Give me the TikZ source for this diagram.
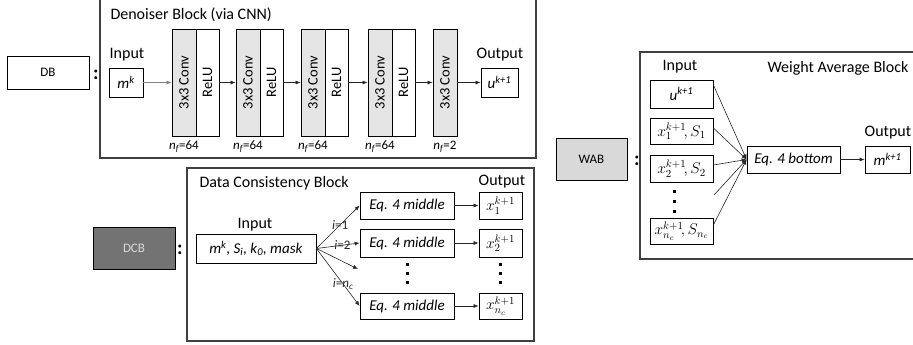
\documentclass[tikz,border=0pt]{standalone}
\usepackage{fix-cm}
\usepackage{fontspec}
\setmainfont{Carlito}
\usetikzlibrary{arrows.meta,positioning}

\begin{document}
\begin{tikzpicture}[x=1pt,y=-1pt,>={Latex[length=5pt,width=4pt]},
    box/.style={draw,line width=0.8pt,inner sep=1pt,font=\fontsize{15}{17}\selectfont},
    mathbox/.style={box,font=\fontsize{15.5}{17}\selectfont},
    layer/.style={draw,line width=0.8pt,rotate=90,minimum width=107pt,minimum height=24pt,inner sep=0pt,font=\fontsize{14.5}{16}\selectfont},
    blockframe/.style={draw=black!75,line width=1.2pt},
    lbl/.style={font=\fontsize{16}{18}\selectfont},
    note/.style={font=\fontsize{13}{15}\selectfont},
    link/.style={->,line width=0.6pt,black!85},
    colon/.style={font=\fontsize{20}{22}\selectfont\bfseries}]
  \useasboundingbox (0,0) rectangle (913,345);
  \clip (0,0) rectangle (913,345);

  % Denoiser block
  \draw[blockframe] (100,-5) rectangle (536,158);
  \node[lbl,anchor=west] (dbtitle) at (107,15) {Denoiser Block (via CNN)};
  \node[box,minimum width=82pt,minimum height=33pt,font=\fontsize{13}{15}\selectfont] (db) at (48,72.5) {DB};
  \node[colon] (dbcolon) at (96,75) {:};
  \node[lbl] (dbin) at (127,55) {Input};
  \node[box,minimum width=34pt,minimum height=29pt] (mk) at (126,82.5) {\textit{m\textsuperscript{k}}};
  \foreach \i/\x in {1/184,2/248,3/313,4/380}{
    \node[layer,fill=gray!20] (conv\i) at (\x,82.5) {3x3 Conv};
    \node[layer,minimum height=23pt] (relu\i) at (\x+23.5,82.5) {ReLU};
    \node[note] (nf\i) at (\x,147) {\textit{n\textsubscript{f}}=64};
  }
  \node[layer,fill=gray!20] (conv5) at (445,82.5) {3x3 Conv};
  \node[note] (nf5) at (445,147) {\textit{n\textsubscript{f}}=2};
  \node[lbl] (dbout) at (500,55) {Output};
  \node[box,minimum width=37pt,minimum height=29pt] (ukp) at (499.5,82.5) {\textit{u\textsuperscript{k+1}}};
  \draw[link,gray] (mk) -- (conv1);
  \foreach \i/\j in {1/2,2/3,3/4,4/5}
    \draw[link] (relu\i) -- (conv\j);
  \draw[link] (conv5) -- (ukp);

  % Data consistency block
  \draw[blockframe] (187,168) rectangle (534,341);
  \node[lbl,anchor=west] (dctitle) at (196,183) {Data Consistency Block};
  \node[lbl] (dcout) at (502,182) {Output};
  \node[box,fill=black!55,text=white!85!black,minimum width=82pt,minimum height=42pt,font=\fontsize{13}{15}\selectfont] (dcb) at (134,248) {DCB};
  \node[colon] (dccolon) at (180,250) {:};
  \node[lbl] (dcin) at (255,225) {Input};
  \node[box,minimum width=120pt,minimum height=29pt] (dcdata) at (256,248.5) {\textit{m\textsuperscript{k}, S\textsubscript{i}, k\textsubscript{0}, mask}};
  \node[box,minimum width=94pt,minimum height=27pt] (eq1) at (407,205.5) {\textit{Eq. 4 middle}};
  \node[box,minimum width=94pt,minimum height=28pt] (eq2) at (407,243) {\textit{Eq. 4 middle}};
  \node[box,minimum width=94pt,minimum height=26pt] (eq3) at (407,306) {\textit{Eq. 4 middle}};
  \node[mathbox,minimum width=43pt,minimum height=27pt] (xo1) at (500.5,205.5) {$x_1^{k+1}$};
  \node[mathbox,minimum width=43pt,minimum height=28pt] (xo2) at (500.5,243) {$x_2^{k+1}$};
  \node[mathbox,minimum width=43pt,minimum height=26pt] (xo3) at (500.5,306) {$x_{n_c}^{k+1}$};
  \coordinate (eqdots) at (358,269);
  \draw[link] (dcdata.east) -- node[note,pos=0.55]{\textit{i}=1} (eq1.west);
  \draw[link] (dcdata.east) -- node[note,pos=0.6]{\textit{i}=2} (eq2.west);
  \draw[link] (dcdata.east) -- (eqdots);
  \draw[link] (dcdata.east) -- node[note,pos=0.62]{\textit{i}=\textit{n\textsubscript{c}}} (eq3.west);
  \foreach \i in {1,2,3}
    \draw[link] (eq\i) -- (xo\i);
  \foreach \x in {407,500}
    \foreach \y in {264,273,282}
      \fill (\x-1.5,\y-1.5) rectangle ++(3,3);

  % Weight average block
  \draw[blockframe] (640,52) rectangle (925,259);
  \node[box,fill=gray!30,minimum width=71pt,minimum height=42pt,font=\fontsize{13}{15}\selectfont] (wab) at (591.5,159) {WAB};
  \node[colon] (wacolon) at (637,161) {:};
  \node[lbl] (wain) at (680,67) {Input};
  \node[lbl,anchor=west] (watitle) at (764,68) {Weight Average Block};
  \node[box,minimum width=63pt,minimum height=28pt] (win1) at (681.5,94) {\textit{u\textsuperscript{k+1}}};
  \node[mathbox,minimum width=63pt,minimum height=26pt] (win2) at (681.5,131) {$x_1^{k+1}\!,S_1$};
  \node[mathbox,minimum width=63pt,minimum height=27pt] (win3) at (681.5,168.5) {$x_2^{k+1}\!,S_2$};
  \node[mathbox,minimum width=63pt,minimum height=26pt] (win4) at (681.5,231) {$x_{n_c}^{k+1}\!,S_{n_c}$};
  \foreach \y in {191,201,211}
    \fill (674-1.5,\y-1.5) rectangle ++(3,3);
  \node[box,minimum width=93pt,minimum height=27pt] (eqb) at (793.5,159.5) {\textit{Eq. 4 bottom}};
  \node[lbl] (waout) at (888,133) {Output};
  \node[box,minimum width=45pt,minimum height=27pt] (mkp) at (887.5,159.5) {\textit{m\textsuperscript{k+1}}};
  \coordinate (wadots) at (714,195);
  \draw[link] ([yshift=9pt]win1.east) -- (eqb.west);
  \draw[link] ([yshift=3pt]win2.east) -- (eqb.west);
  \draw[link] ([yshift=3.5pt]win3.east) -- (eqb.west);
  \draw[link] (wadots) -- (eqb.west);
  \draw[link] ([yshift=6pt]win4.east) -- (eqb.west);
  \draw[link] (eqb) -- (mkp);
\end{tikzpicture}
\end{document}
